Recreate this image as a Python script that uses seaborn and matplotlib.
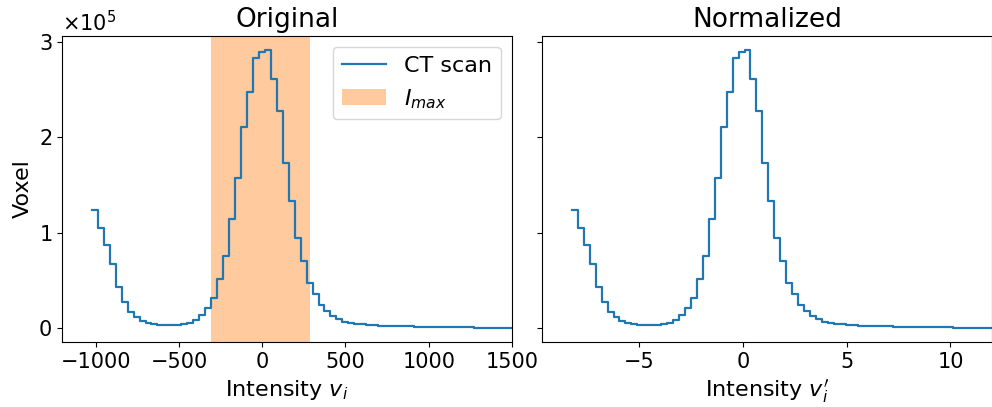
import numpy as np
import pandas as pd
import matplotlib
matplotlib.use("Agg")
import matplotlib.pyplot as plt
import seaborn as sns
from matplotlib.lines import Line2D
from matplotlib.patches import Patch
from matplotlib.ticker import MultipleLocator

# histogram of the CT scan (100 bins starting at -1024 HU)
bin_start = -1024
bin_width = 35.84
voxel_counts = [
    123600, 105100, 87600, 67700, 43600, 27900, 17500, 12200, 8000, 5900,
    4500, 3800, 3500, 3500, 3800, 4500, 5900, 9100, 13600, 21300,
    32100, 51700, 76100, 114800, 157100, 210800, 247500, 283100, 289000, 291400,
    260700, 226900, 173500, 133700, 94200, 70500, 47800, 35600, 24800, 18100,
    12900, 9800, 7300, 6000, 5000, 4300, 3800, 3400, 3100, 2800,
    2600, 2400, 2200, 2100, 2000, 1900, 1800, 1700, 1600, 1500,
    1400, 1300, 1200, 1100, 1000, 1000, 900, 900, 800, 800,
    750, 720, 700, 680, 650, 620, 600, 580, 560, 540,
    520, 500, 480, 460, 440, 420, 400, 380, 360, 340,
    320, 300, 280, 260, 240, 220, 200, 180, 160, 150,
]
norm_mean = 5.0
norm_std = 125.0
imax_range = (-305, 285)
titles = ["Original", "Normalized"]
xlabels = ["Intensity $v_i$", "Intensity $v_i'$"]
xlims_right = [1500, 12]

edges = bin_start + bin_width * np.arange(len(voxel_counts) + 1)
edges_norm = (edges - norm_mean) / norm_std

fig, axes = plt.subplots(1, 2, figsize=(9.92, 4.07), dpi=100, sharey=True)
fig.subplots_adjust(left=0.0625, right=1.0, top=0.912, bottom=0.159, wspace=0.067)

for ax, e, title, xlabel, xr in zip(axes, [edges, edges_norm], titles, xlabels, xlims_right):
    df = pd.DataFrame({"v": (e[:-1] + e[1:]) / 2, "count": voxel_counts})
    sns.histplot(data=df, x="v", weights="count", bins=e.tolist(), element="step",
                 fill=False, color="#1f77b4", linewidth=1.6, ax=ax)
    for ln in ax.lines:
        ln.sticky_edges.x.clear()
        ln.sticky_edges.y.clear()
    ax.relim()
    ax.autoscale_view()
    ax.set_xlim(right=xr)
    ax.set_title(title, fontsize=19)
    ax.set_xlabel(xlabel, fontsize=16)
    ax.set_ylabel("")
    ax.tick_params(labelsize=15)
    ax.yaxis.set_major_locator(MultipleLocator(100000))
    ax.ticklabel_format(axis="y", style="sci", scilimits=(0, 0), useMathText=True)

axes[0].axvspan(*imax_range, color="tab:orange", alpha=0.4, lw=0, zorder=0)
axes[0].set_ylabel("Voxel", fontsize=16)
axes[0].yaxis.get_offset_text().set_fontsize(15)

handles = [Line2D([], [], color="#1f77b4", lw=1.6, label="CT scan"),
           Patch(facecolor="tab:orange", alpha=0.4, label="$I_{max}$")]
axes[0].legend(handles=handles, loc="upper right", fontsize=16)

plt.savefig("out.png", dpi=100)
